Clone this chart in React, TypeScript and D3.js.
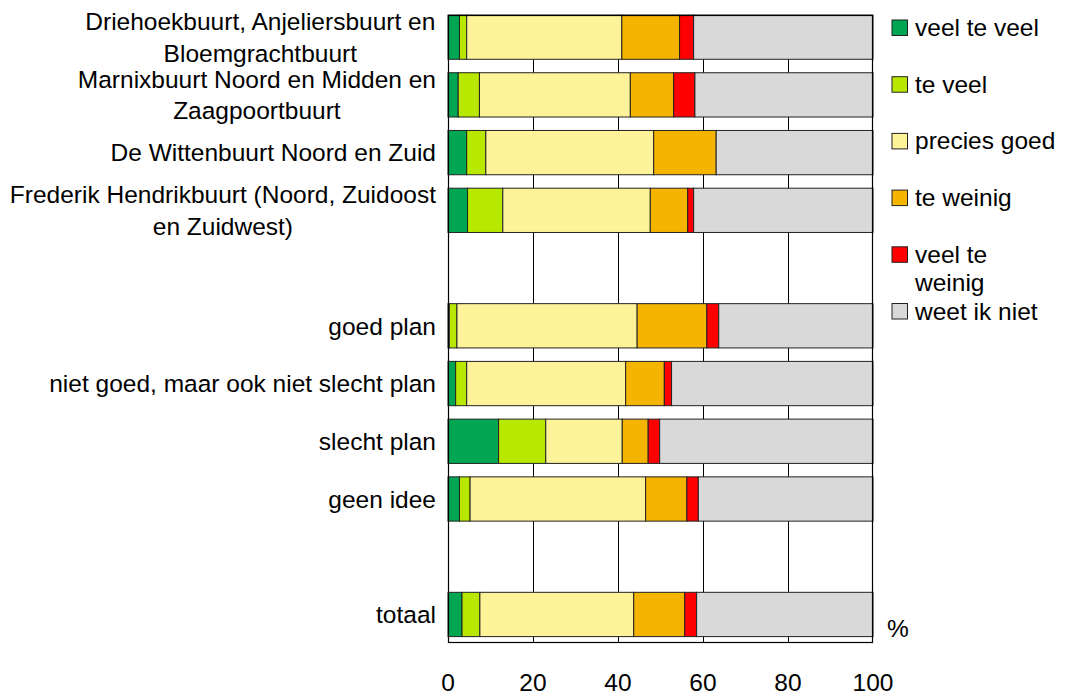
import React from "react";
import * as d3 from "d3";

// ---- data ----
const categories: string[][] = [
  ["Driehoekbuurt, Anjeliersbuurt en", "Bloemgrachtbuurt"],
  ["Marnixbuurt Noord en Midden en", "Zaagpoortbuurt"],
  ["De Wittenbuurt Noord en Zuid"],
  ["Frederik Hendrikbuurt (Noord, Zuidoost", "en Zuidwest)"],
  [],
  ["goed plan"],
  ["niet goed, maar ook niet slecht plan"],
  ["slecht plan"],
  ["geen idee"],
  [],
  ["totaal"],
];
const seriesNames = ["veel te veel", "te veel", "precies goed", "te weinig", "veel te weinig", "weet ik niet"];
const legendLabels: string[][] = [["veel te veel"], ["te veel"], ["precies goed"], ["te weinig"], ["veel te", "weinig"], ["weet ik niet"]];
const colors = ["#00A651", "#B8E800", "#FFF399", "#F5B400", "#FF0000", "#D9D9D9"];

const veelTeVeel = [2.7, 2.4, 4.4, 4.6, null, 0.3, 1.8, 11.9, 2.7, null, 3.3];
const teVeel = [1.7, 5.0, 4.5, 8.3, null, 1.8, 2.6, 11.1, 2.5, null, 4.2];
const preciesGoed = [36.5, 35.5, 39.5, 34.7, null, 42.4, 37.4, 18.0, 41.3, null, 36.2];
const teWeinig = [13.6, 10.2, 14.7, 8.8, null, 16.4, 9.1, 6.1, 9.7, null, 12.0];
const veelTeWeinig = [3.3, 5.0, 0, 1.4, null, 2.8, 1.7, 2.7, 2.7, null, 2.8];
const weetIkNiet = [42.2, 41.9, 36.9, 42.2, null, 36.3, 47.4, 50.2, 41.1, null, 41.5];
const xTicks = [0, 20, 40, 60, 80, 100];
const unitLabel = "%";

const seriesValues = [veelTeVeel, teVeel, preciesGoed, teWeinig, veelTeWeinig, weetIkNiet];

const FONT = "Arial, 'Liberation Sans', sans-serif";
const FS = 24.5;

let ctx: CanvasRenderingContext2D | null = null;
function textWidth(s: string) {
  if (!ctx) ctx = document.createElement("canvas").getContext("2d");
  if (!ctx) return s.length * FS * 0.5;
  ctx.font = `${FS}px ${FONT}`;
  return ctx.measureText(s).width;
}

export default function App() {
  const W = 1072, H = 697;
  const left = 448, right = 873, top = 15, bottom = 643;
  const x = d3.scaleLinear().domain([0, 100]).range([left, right]);
  const rowIds = categories.map((_, i) => String(i));
  const y = d3.scaleBand<string>().domain(rowIds).range([top, 636.6]).paddingInner(0.233).paddingOuter(0);

  const rows = rowIds.map((id, i) => {
    const obj: any = { id };
    seriesNames.forEach((s, k) => (obj[s] = seriesValues[k][i] ?? 0));
    return obj;
  });
  const stack = d3.stack<any>().keys(seriesNames)(rows);

  const labelRight = 436;
  const lineH = 31.6;

  return (
    <svg width={W} height={H} style={{ position: "absolute", left: 0, top: 0, background: "#fff" }} fontFamily={FONT}>
      <rect x={0} y={0} width={W} height={H} fill="#fff" />
      {/* gridlines */}
      {xTicks.slice(1, -1).map((t) => (
        <line key={t} x1={Math.round(x(t)) + 0.5} x2={Math.round(x(t)) + 0.5} y1={top} y2={bottom} stroke="#000" strokeWidth={1} />
      ))}
      {/* bars */}
      {stack.map((layer, k) => (
        <g key={seriesNames[k]}>
          {layer.map((d, i) => {
            if (seriesValues[k][i] == null || d[1] - d[0] <= 0) return null;
            return (
              <rect
                key={i}
                x={x(d[0])}
                y={y(rowIds[i])!}
                width={x(d[1]) - x(d[0])}
                height={y.bandwidth()}
                fill={colors[k]}
                stroke="#222"
                strokeWidth={1}
              />
            );
          })}
        </g>
      ))}
      {/* frame */}
      <rect x={left + 0.5} y={top + 0.5} width={right - left - 1} height={bottom - top - 1} fill="none" stroke="#000" strokeWidth={1.2} />
      {/* category labels */}
      {categories.map((lines, i) => {
        if (!lines.length) return null;
        const cy = y(rowIds[i])! + y.bandwidth() / 2;
        const blockW = Math.max(...lines.map(textWidth));
        const cx = labelRight - blockW / 2;
        const n = lines.length;
        return (
          <text key={i} fontSize={FS} fill="#000" textAnchor="middle">
            {lines.map((l, j) => (
              <tspan key={j} x={cx} y={cy + 0.36 * FS + (j - (n - 1) / 2) * lineH}>
                {l}
              </tspan>
            ))}
          </text>
        );
      })}
      {/* x tick labels */}
      {xTicks.map((t) => (
        <text key={t} x={x(t)} y={691} fontSize={FS} textAnchor="middle" fill="#000">
          {t}
        </text>
      ))}
      <text x={887} y={637} fontSize={FS} fill="#000">{unitLabel}</text>
      {/* legend */}
      {legendLabels.map((lines, k) => {
        const sy = 20 + k * 56.7;
        return (
          <g key={k}>
            <rect x={892} y={sy} width={15.5} height={15.5} fill={colors[k]} stroke="#222" strokeWidth={1} />
            <text fontSize={FS} fill="#000">
              {lines.map((l, j) => (
                <tspan key={j} x={915} y={sy + 16 + j * 28.3}>{l}</tspan>
              ))}
            </text>
          </g>
        );
      })}
    </svg>
  );
}
